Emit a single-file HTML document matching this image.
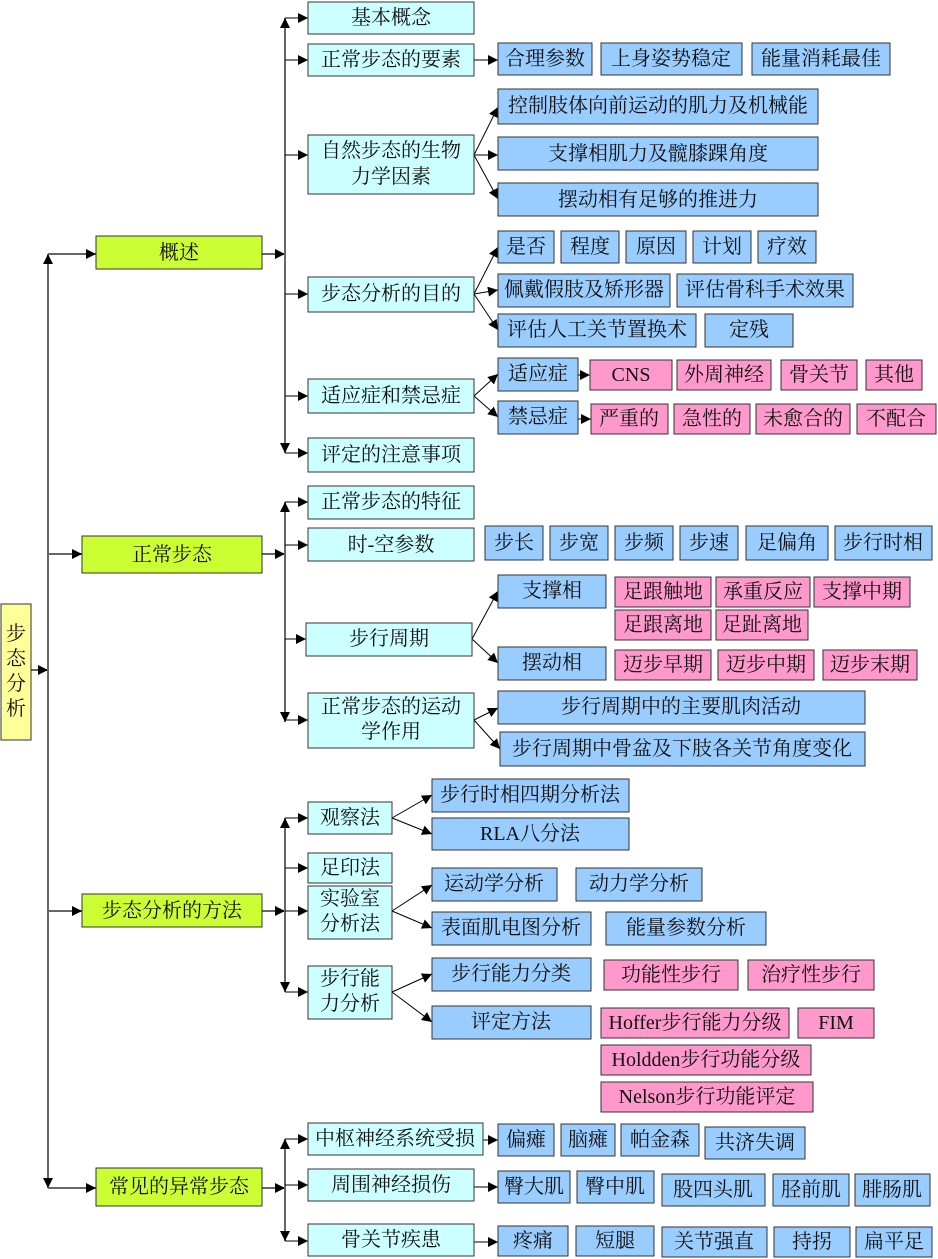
<!DOCTYPE html>
<html><head><meta charset="utf-8"><style>
html,body{margin:0;padding:0;background:#fff}
svg{display:block}
text{font-family:"Liberation Serif","Noto Serif CJK SC",serif;font-size:20px;fill:#111}
.c{fill:#ccffff;stroke:#333;stroke-width:1}
.b{fill:#99ccff;stroke:#333;stroke-width:1}
.p{fill:#ff99cc;stroke:#333;stroke-width:1}
.g{fill:#ccff33;stroke:#333;stroke-width:1}
.y{fill:#ffff99;stroke:#333;stroke-width:1}
.t{stroke:#666;stroke-width:2;fill:none}
.l{stroke:#000;stroke-width:1;fill:none}
</style></head><body>
<svg width="938" height="1259" xmlns="http://www.w3.org/2000/svg">
<defs><marker id="a" viewBox="0 0 10 10" refX="10" refY="5" markerWidth="10" markerHeight="10" markerUnits="userSpaceOnUse" orient="auto"><path d="M0,0L10,5L0,10z" fill="#000"/></marker></defs>
<g text-anchor="middle" dominant-baseline="central">
<line class="t" x1="31" y1="670" x2="48" y2="670" marker-end="url(#a)"/>
<line class="t" x1="48" y1="670" x2="48" y2="254" marker-end="url(#a)"/>
<line class="t" x1="48" y1="670" x2="48" y2="1188" marker-end="url(#a)"/>
<line class="t" x1="48" y1="254" x2="96" y2="254" marker-end="url(#a)"/>
<line class="t" x1="48" y1="554" x2="82" y2="554" marker-end="url(#a)"/>
<line class="t" x1="48" y1="911" x2="82" y2="911" marker-end="url(#a)"/>
<line class="t" x1="48" y1="1188" x2="96" y2="1188" marker-end="url(#a)"/>
<line class="t" x1="262" y1="254" x2="285" y2="254" marker-end="url(#a)"/>
<line class="t" x1="285" y1="254" x2="285" y2="18" marker-end="url(#a)"/>
<line class="t" x1="285" y1="254" x2="285" y2="453" marker-end="url(#a)"/>
<line class="l" x1="285" y1="18" x2="308" y2="18" marker-end="url(#a)"/>
<line class="l" x1="285" y1="60" x2="308" y2="60" marker-end="url(#a)"/>
<line class="l" x1="285" y1="155" x2="308" y2="155" marker-end="url(#a)"/>
<line class="l" x1="285" y1="294" x2="308" y2="294" marker-end="url(#a)"/>
<line class="l" x1="285" y1="396" x2="308" y2="396" marker-end="url(#a)"/>
<line class="l" x1="285" y1="453" x2="308" y2="453" marker-end="url(#a)"/>
<line class="l" x1="474" y1="60" x2="498" y2="60" marker-end="url(#a)"/>
<line class="l" x1="474" y1="155" x2="498" y2="107" marker-end="url(#a)"/>
<line class="l" x1="474" y1="155" x2="498" y2="155" marker-end="url(#a)"/>
<line class="l" x1="474" y1="155" x2="498" y2="199" marker-end="url(#a)"/>
<line class="l" x1="474" y1="294" x2="498" y2="247" marker-end="url(#a)"/>
<line class="l" x1="474" y1="294" x2="498" y2="290" marker-end="url(#a)"/>
<line class="l" x1="474" y1="294" x2="498" y2="330" marker-end="url(#a)"/>
<line class="l" x1="474" y1="396" x2="498" y2="374" marker-end="url(#a)"/>
<line class="l" x1="474" y1="396" x2="498" y2="417" marker-end="url(#a)"/>
<line class="l" x1="578" y1="375" x2="590" y2="375" marker-end="url(#a)"/>
<line class="l" x1="578" y1="419" x2="591" y2="419" marker-end="url(#a)"/>
<line class="t" x1="262" y1="554" x2="285" y2="554" marker-end="url(#a)"/>
<line class="t" x1="285" y1="554" x2="285" y2="502" marker-end="url(#a)"/>
<line class="t" x1="285" y1="554" x2="285" y2="722" marker-end="url(#a)"/>
<line class="l" x1="285" y1="502" x2="308" y2="502" marker-end="url(#a)"/>
<line class="l" x1="285" y1="545" x2="308" y2="545" marker-end="url(#a)"/>
<line class="l" x1="285" y1="639" x2="306" y2="639" marker-end="url(#a)"/>
<line class="l" x1="285" y1="720" x2="308" y2="720" marker-end="url(#a)"/>
<line class="l" x1="472" y1="639" x2="498" y2="591" marker-end="url(#a)"/>
<line class="l" x1="472" y1="639" x2="498" y2="663" marker-end="url(#a)"/>
<line class="l" x1="474" y1="720" x2="498" y2="708" marker-end="url(#a)"/>
<line class="l" x1="474" y1="720" x2="500" y2="749" marker-end="url(#a)"/>
<line class="t" x1="262" y1="911" x2="285" y2="911" marker-end="url(#a)"/>
<line class="t" x1="285" y1="911" x2="285" y2="818" marker-end="url(#a)"/>
<line class="t" x1="285" y1="911" x2="285" y2="992" marker-end="url(#a)"/>
<line class="l" x1="285" y1="818" x2="308" y2="818" marker-end="url(#a)"/>
<line class="l" x1="285" y1="868" x2="308" y2="868" marker-end="url(#a)"/>
<line class="l" x1="285" y1="911" x2="308" y2="911" marker-end="url(#a)"/>
<line class="l" x1="285" y1="992" x2="308" y2="992" marker-end="url(#a)"/>
<line class="l" x1="392" y1="818" x2="432" y2="795" marker-end="url(#a)"/>
<line class="l" x1="392" y1="818" x2="432" y2="834" marker-end="url(#a)"/>
<line class="l" x1="392" y1="911" x2="432" y2="885" marker-end="url(#a)"/>
<line class="l" x1="392" y1="911" x2="432" y2="928" marker-end="url(#a)"/>
<line class="l" x1="392" y1="992" x2="432" y2="974" marker-end="url(#a)"/>
<line class="l" x1="392" y1="992" x2="432" y2="1022" marker-end="url(#a)"/>
<line class="t" x1="262" y1="1188" x2="285" y2="1188" marker-end="url(#a)"/>
<line class="t" x1="285" y1="1188" x2="285" y2="1139" marker-end="url(#a)"/>
<line class="t" x1="285" y1="1188" x2="285" y2="1241" marker-end="url(#a)"/>
<line class="l" x1="285" y1="1139" x2="308" y2="1139" marker-end="url(#a)"/>
<line class="l" x1="285" y1="1185" x2="308" y2="1185" marker-end="url(#a)"/>
<line class="l" x1="285" y1="1241" x2="308" y2="1241" marker-end="url(#a)"/>
<line class="l" x1="483" y1="1140" x2="498" y2="1140" marker-end="url(#a)"/>
<line class="l" x1="474" y1="1187" x2="498" y2="1187" marker-end="url(#a)"/>
<line class="l" x1="474" y1="1242" x2="498" y2="1242" marker-end="url(#a)"/>

<rect class="y" x="1" y="604" width="30" height="136"/>
<text x="16" y="634">步</text><text x="16" y="659">态</text><text x="16" y="684">分</text><text x="16" y="709">析</text>
<rect class="g" x="96" y="236" width="166" height="33"/><text x="179" y="253">概述</text>
<rect class="g" x="82" y="536" width="180" height="37"/><text x="172" y="555">正常步态</text>
<rect class="g" x="82" y="894" width="180" height="33"/><text x="172" y="911">步态分析的方法</text>
<rect class="g" x="96" y="1168" width="166" height="38"/><text x="179" y="1187">常见的异常步态</text>
<rect class="c" x="308" y="2" width="166" height="32"/><text x="391" y="18">基本概念</text>
<rect class="c" x="308" y="44" width="166" height="32"/><text x="391" y="60">正常步态的要素</text>
<rect class="c" x="308" y="135" width="166" height="59"/><text x="391" y="151">自然步态的生物</text><text x="391" y="177">力学因素</text>
<rect class="c" x="308" y="277" width="166" height="35"/><text x="391" y="294">步态分析的目的</text>
<rect class="c" x="308" y="379" width="166" height="34"/><text x="391" y="396">适应症和禁忌症</text>
<rect class="c" x="308" y="438" width="166" height="34"/><text x="391" y="455">评定的注意事项</text>
<rect class="b" x="498" y="43" width="94" height="32"/><text x="545" y="59">合理参数</text>
<rect class="b" x="601" y="43" width="141" height="32"/><text x="671" y="59">上身姿势稳定</text>
<rect class="b" x="752" y="43" width="138" height="32"/><text x="821" y="59">能量消耗最佳</text>
<rect class="b" x="498" y="89" width="320" height="35"/><text x="658" y="106">控制肢体向前运动的肌力及机械能</text>
<rect class="b" x="498" y="137" width="320" height="33"/><text x="658" y="154">支撑相肌力及髋膝踝角度</text>
<rect class="b" x="498" y="183" width="320" height="33"/><text x="658" y="200">摆动相有足够的推进力</text>
<rect class="b" x="498" y="231" width="56" height="32"/><text x="526" y="247">是否</text>
<rect class="b" x="561" y="231" width="58" height="32"/><text x="590" y="247">程度</text>
<rect class="b" x="626" y="231" width="60" height="32"/><text x="656" y="247">原因</text>
<rect class="b" x="693" y="231" width="58" height="32"/><text x="722" y="247">计划</text>
<rect class="b" x="758" y="231" width="58" height="32"/><text x="787" y="247">疗效</text>
<rect class="b" x="498" y="274" width="172" height="33"/><text x="584" y="290">佩戴假肢及矫形器</text>
<rect class="b" x="677" y="274" width="176" height="33"/><text x="765" y="290">评估骨科手术效果</text>
<rect class="b" x="498" y="314" width="198" height="33"/><text x="597" y="330">评估人工关节置换术</text>
<rect class="b" x="705" y="314" width="88" height="33"/><text x="749" y="330">定残</text>
<rect class="b" x="498" y="358" width="80" height="33"/><text x="538" y="374">适应症</text>
<rect class="b" x="498" y="401" width="80" height="33"/><text x="538" y="417">禁忌症</text>
<rect class="p" x="590" y="360" width="82" height="30"/><text x="631" y="375">CNS</text>
<rect class="p" x="677" y="360" width="94" height="30"/><text x="724" y="375">外周神经</text>
<rect class="p" x="781" y="360" width="76" height="30"/><text x="819" y="375">骨关节</text>
<rect class="p" x="866" y="360" width="56" height="30"/><text x="894" y="375">其他</text>
<rect class="p" x="591" y="404" width="77" height="30"/><text x="629" y="419">严重的</text>
<rect class="p" x="674" y="404" width="76" height="30"/><text x="712" y="419">急性的</text>
<rect class="p" x="756" y="404" width="94" height="30"/><text x="803" y="419">未愈合的</text>
<rect class="p" x="857" y="404" width="79" height="30"/><text x="896" y="419">不配合</text>
<rect class="c" x="308" y="486" width="166" height="33"/><text x="391" y="502">正常步态的特征</text>
<rect class="c" x="308" y="528" width="166" height="33"/><text x="391" y="545">时-空参数</text>
<rect class="c" x="306" y="623" width="166" height="33"/><text x="389" y="639">步行周期</text>
<rect class="c" x="308" y="693" width="166" height="55"/><text x="391" y="707">正常步态的运动</text><text x="391" y="732">学作用</text>
<rect class="b" x="485" y="526" width="58" height="34"/><text x="514" y="543">步长</text>
<rect class="b" x="550" y="526" width="58" height="34"/><text x="579" y="543">步宽</text>
<rect class="b" x="615" y="526" width="58" height="34"/><text x="644" y="543">步频</text>
<rect class="b" x="680" y="526" width="58" height="34"/><text x="709" y="543">步速</text>
<rect class="b" x="746" y="526" width="82" height="34"/><text x="787" y="543">足偏角</text>
<rect class="b" x="835" y="526" width="97" height="34"/><text x="883" y="543">步行时相</text>
<rect class="b" x="498" y="575" width="108" height="33"/><text x="552" y="591">支撑相</text>
<rect class="b" x="498" y="647" width="108" height="33"/><text x="552" y="663">摆动相</text>
<rect class="p" x="615" y="577" width="96" height="30"/><text x="663" y="592">足跟触地</text>
<rect class="p" x="716" y="577" width="94" height="30"/><text x="763" y="592">承重反应</text>
<rect class="p" x="814" y="577" width="96" height="30"/><text x="862" y="592">支撑中期</text>
<rect class="p" x="615" y="610" width="96" height="30"/><text x="663" y="625">足跟离地</text>
<rect class="p" x="716" y="610" width="92" height="30"/><text x="762" y="625">足趾离地</text>
<rect class="p" x="615" y="650" width="96" height="30"/><text x="663" y="665">迈步早期</text>
<rect class="p" x="718" y="650" width="96" height="30"/><text x="766" y="665">迈步中期</text>
<rect class="p" x="823" y="650" width="94" height="30"/><text x="870" y="665">迈步末期</text>
<rect class="b" x="498" y="691" width="367" height="33"/><text x="681" y="707">步行周期中的主要肌肉活动</text>
<rect class="b" x="500" y="732" width="365" height="34"/><text x="682" y="749">步行周期中骨盆及下肢各关节角度变化</text>
<rect class="c" x="308" y="802" width="84" height="32"/><text x="350" y="818">观察法</text>
<rect class="c" x="308" y="853" width="84" height="30"/><text x="350" y="868">足印法</text>
<rect class="c" x="308" y="886" width="84" height="53"/><text x="350" y="899">实验室</text><text x="350" y="924">分析法</text>
<rect class="c" x="308" y="966" width="84" height="53"/><text x="350" y="979">步行能</text><text x="350" y="1004">力分析</text>
<rect class="b" x="432" y="779" width="197" height="33"/><text x="530" y="795">步行时相四期分析法</text>
<rect class="b" x="432" y="818" width="197" height="32"/><text x="530" y="834">RLA八分法</text>
<rect class="b" x="432" y="868" width="125" height="33"/><text x="494" y="884">运动学分析</text>
<rect class="b" x="576" y="868" width="126" height="33"/><text x="639" y="884">动力学分析</text>
<rect class="b" x="432" y="912" width="159" height="33"/><text x="511" y="928">表面肌电图分析</text>
<rect class="b" x="606" y="912" width="160" height="33"/><text x="686" y="928">能量参数分析</text>
<rect class="b" x="432" y="958" width="159" height="33"/><text x="511" y="974">步行能力分类</text>
<rect class="b" x="432" y="1006" width="159" height="33"/><text x="511" y="1022">评定方法</text>
<rect class="p" x="604" y="960" width="134" height="30"/><text x="671" y="975">功能性步行</text>
<rect class="p" x="748" y="960" width="126" height="30"/><text x="811" y="975">治疗性步行</text>
<rect class="p" x="601" y="1008" width="188" height="30"/><text x="695" y="1023">Hoffer步行能力分级</text>
<rect class="p" x="798" y="1008" width="76" height="30"/><text x="836" y="1023">FIM</text>
<rect class="p" x="601" y="1045" width="210" height="30"/><text x="706" y="1060">Holdden步行功能分级</text>
<rect class="p" x="601" y="1082" width="212" height="30"/><text x="707" y="1097">Nelson步行功能评定</text>
<rect class="c" x="308" y="1123" width="175" height="32"/><text x="395" y="1139">中枢神经系统受损</text>
<rect class="c" x="308" y="1169" width="166" height="32"/><text x="391" y="1185">周围神经损伤</text>
<rect class="c" x="308" y="1224" width="166" height="32"/><text x="391" y="1240">骨关节疾患</text>
<rect class="b" x="498" y="1124" width="56" height="32"/><text x="526" y="1140">偏瘫</text>
<rect class="b" x="561" y="1124" width="54" height="32"/><text x="588" y="1140">脑瘫</text>
<rect class="b" x="621" y="1124" width="78" height="32"/><text x="660" y="1140">帕金森</text>
<rect class="b" x="705" y="1127" width="100" height="32"/><text x="755" y="1143">共济失调</text>
<rect class="b" x="498" y="1171" width="72" height="32"/><text x="534" y="1187">臀大肌</text>
<rect class="b" x="577" y="1171" width="77" height="32"/><text x="615" y="1187">臀中肌</text>
<rect class="b" x="662" y="1174" width="103" height="32"/><text x="713" y="1190">股四头肌</text>
<rect class="b" x="773" y="1174" width="76" height="32"/><text x="811" y="1190">胫前肌</text>
<rect class="b" x="855" y="1174" width="75" height="32"/><text x="892" y="1190">腓肠肌</text>
<rect class="b" x="498" y="1226" width="70" height="30"/><text x="533" y="1241">疼痛</text>
<rect class="b" x="576" y="1226" width="78" height="30"/><text x="615" y="1241">短腿</text>
<rect class="b" x="662" y="1227" width="105" height="30"/><text x="714" y="1242">关节强直</text>
<rect class="b" x="774" y="1227" width="76" height="30"/><text x="812" y="1242">持拐</text>
<rect class="b" x="856" y="1227" width="76" height="30"/><text x="894" y="1242">扁平足</text>
</g>
</svg>
</body></html>
